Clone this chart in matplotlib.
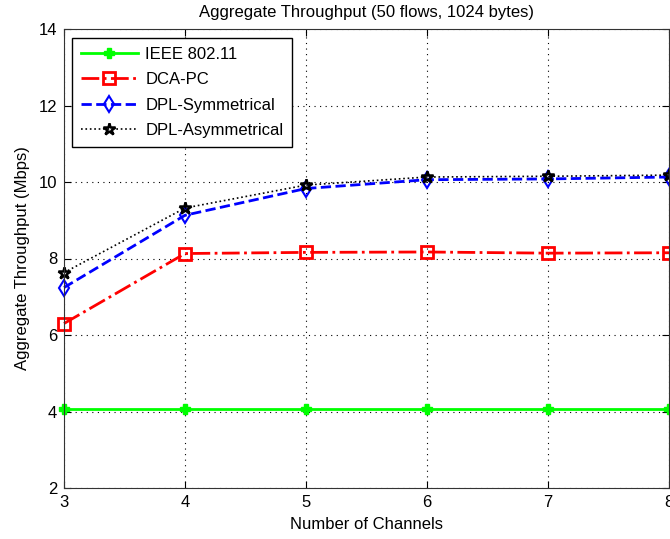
import matplotlib.pyplot as plt
import numpy as np

plt.rcParams['font.family'] = ['Liberation Sans', 'DejaVu Sans']

# Aggregate throughput vs number of channels
channels = [3, 4, 5, 6, 7, 8]
ieee = [4.07, 4.07, 4.07, 4.07, 4.07, 4.07]
dca_pc = [6.30, 8.13, 8.16, 8.17, 8.14, 8.15]
dpl_sym = [7.24, 9.13, 9.83, 10.06, 10.08, 10.13]
dpl_asym = [7.63, 9.32, 9.92, 10.13, 10.15, 10.18]

fig = plt.figure(figsize=(6.7, 5.39), dpi=100)
ax = fig.add_axes([64/670, 51/539, 605/670, 459/539])

ax.plot(channels, ieee, '-', color='#00ff00', lw=2, marker='P', ms=7,
        mec='#00ff00', mfc='#00ff00', label='IEEE 802.11', clip_on=False)
ax.plot(channels, dca_pc, '-.', color='red', lw=2, marker='s', ms=9,
        mec='red', mfc='none', mew=2, label='DCA-PC', clip_on=False)
ax.plot(channels, dpl_sym, '--', color='blue', lw=2, marker='d', ms=8,
        mec='blue', mfc='none', mew=1.5, label='DPL-Symmetrical', clip_on=False)
ax.plot(channels, dpl_asym, ':', color='black', lw=1.2, marker='*', ms=9,
        mec='black', mfc='none', mew=1.8, label='DPL-Asymmetrical', clip_on=False)

ax.set_xlim(3, 8)
ax.set_ylim(2, 14)
ax.set_xticks(channels)
ax.set_yticks(np.arange(2, 15, 2))
ax.grid(True, linestyle=(0, (1, 4)), color='black', linewidth=0.8)
ax.tick_params(direction='in', top=True, right=True, labelsize=12, length=5, pad=5)
for s in ax.spines.values():
    s.set_color('#333333')

ax.set_title('Aggregate Throughput (50 flows, 1024 bytes)', fontsize=12, pad=9)
ax.set_xlabel('Number of Channels', fontsize=12, labelpad=5)
ax.set_ylabel('Aggregate Throughput (Mbps)', fontsize=12, labelpad=6)

leg = ax.legend(loc='upper left', bbox_to_anchor=(0.013, 0.981), fontsize=12,
                fancybox=False, edgecolor='black', framealpha=1,
                handlelength=3.4, handletextpad=0.45, borderpad=0.55,
                labelspacing=0.62, borderaxespad=0)
leg.get_frame().set_linewidth(1)

plt.savefig('out.png', dpi=100)
